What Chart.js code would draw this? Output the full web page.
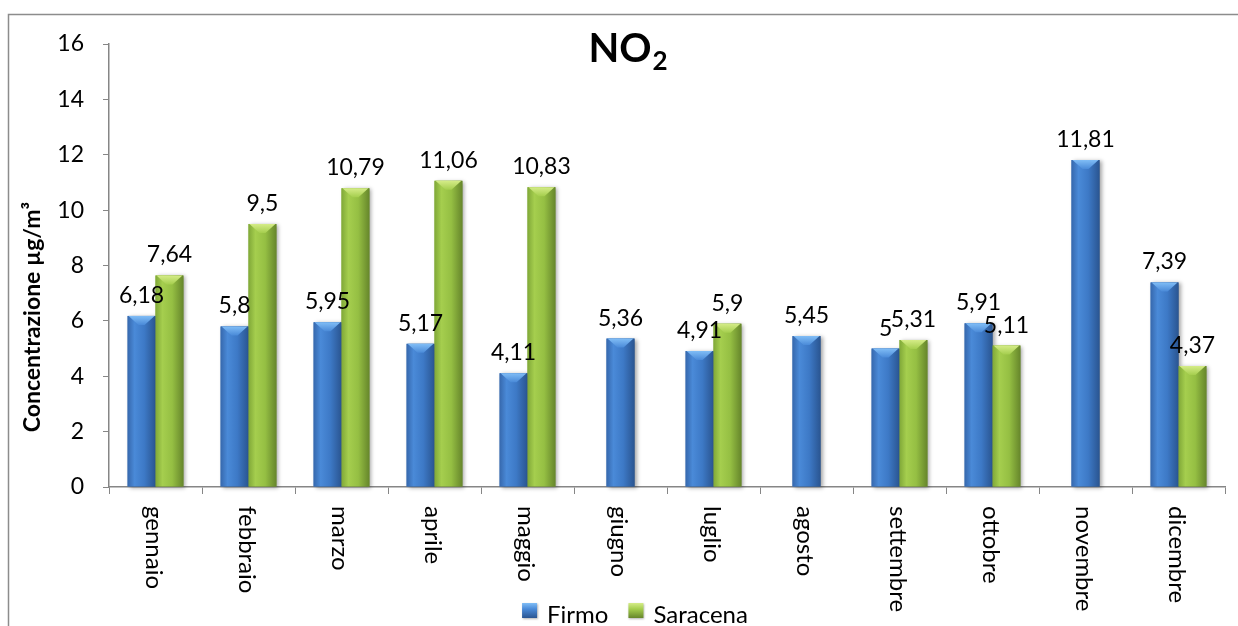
<!DOCTYPE html>
<html>
<head>
<meta charset="utf-8">
<script src="https://cdn.jsdelivr.net/npm/chart.js@4.4.1/dist/chart.umd.min.js"></script>
<style>
  html, body { margin: 0; padding: 0; background: #fff; }
  #wrap { width: 1238px; height: 626px; }
</style>
</head>
<body>
<div id="wrap"><canvas id="no2"></canvas></div>
<script>
// dati NO2
const mesi = ['gennaio', 'febbraio', 'marzo', 'aprile', 'maggio', 'giugno',
  'luglio', 'agosto', 'settembre', 'ottobre', 'novembre', 'dicembre'];
const firmo = [6.18, 5.8, 5.95, 5.17, 4.11, 5.36, 4.91, 5.45, 5, 5.91, 11.81, 7.39];
const saracena = [7.64, 9.5, 10.79, 11.06, 10.83, null, 5.9, null, 5.31, 5.11, null, 4.37];
const yTicks = [0, 2, 4, 6, 8, 10, 12, 14, 16];

const FONT = 'Lato, "Open Sans", sans-serif';
const AXIS = '#868686';

// colori per le barre (base, sfumatura, smusso)
const stili = [
  { base: '#3b74bd', stops: ['#3668ad', '#4a8ad8', '#3d79c6', '#2a5591'], top: '#80bdf6' },
  { base: '#8fbb3f', stops: ['#80a838', '#a5ce4e', '#95bf43', '#66862b'], top: '#d5ec88' }
];

function sfumatura(ctx, x0, x1, s) {
  const g = ctx.createLinearGradient(x0, 0, x1, 0);
  g.addColorStop(0, s.stops[0]);
  g.addColorStop(0.25, s.stops[1]);
  g.addColorStop(0.6, s.stops[2]);
  g.addColorStop(1, s.stops[3]);
  return g;
}

const decorazioni = {
  id: 'decorazioni',
  beforeDraw(chart) {
    const ctx = chart.ctx;
    ctx.save();
    ctx.fillStyle = '#fff';
    ctx.fillRect(0, 0, chart.width, chart.height);
    // cornice (solo alto e sinistra visibili)
    ctx.strokeStyle = '#8c8c8c';
    ctx.lineWidth = 1.5;
    ctx.strokeRect(8.5, 14.5, chart.width + 20, chart.height + 20);
    ctx.restore();
  },
  afterDatasetsDraw(chart) {
    const ctx = chart.ctx;
    chart.data.datasets.forEach((ds, di) => {
      const meta = chart.getDatasetMeta(di);
      const s = stili[di];
      meta.data.forEach((el, i) => {
        if (ds.data[i] == null) return;
        const { x, y, base, width } = el.getProps(['x', 'y', 'base', 'width'], true);
        const l = x - width / 2, r = x + width / 2;
        ctx.save();
        ctx.shadowColor = 'rgba(0,0,0,0.35)';
        ctx.shadowBlur = 4;
        ctx.shadowOffsetX = 2;
        ctx.shadowOffsetY = 1;
        ctx.fillStyle = sfumatura(ctx, l, r, s);
        ctx.fillRect(l, y, width, base - y);
        ctx.restore();
        // smusso in cima
        ctx.save();
        const g = ctx.createLinearGradient(0, y, 0, y + 9);
        g.addColorStop(0, s.top);
        g.addColorStop(1, s.stops[1]);
        ctx.fillStyle = g;
        ctx.beginPath();
        ctx.moveTo(l + 1, y);
        ctx.lineTo(r - 1, y);
        ctx.lineTo(x + 3, y + 9);
        ctx.lineTo(x - 3, y + 9);
        ctx.closePath();
        ctx.fill();
        ctx.restore();
      });
    });
  },
  afterDraw(chart) {
    const ctx = chart.ctx;
    const xs = chart.scales.x;
    ctx.save();
    ctx.fillStyle = '#000';

    // etichette dei valori
    ctx.font = '23px ' + FONT;
    ctx.textAlign = 'center';
    ctx.textBaseline = 'alphabetic';
    chart.data.datasets.forEach((ds, di) => {
      chart.getDatasetMeta(di).data.forEach((el, i) => {
        const v = ds.data[i];
        if (v == null) return;
        ctx.fillText(String(v).replace('.', ','), el.x, el.y - 13);
      });
    });

    // mesi ruotati (lettura dall'alto in basso)
    ctx.font = '24px ' + FONT;
    ctx.textAlign = 'left';
    ctx.textBaseline = 'middle';
    mesi.forEach((m, i) => {
      ctx.save();
      ctx.translate(xs.getPixelForValue(i) - 2, xs.bottom + 12);
      ctx.rotate(Math.PI / 2);
      ctx.fillText(m, 0, 0);
      ctx.restore();
    });

    // titolo asse y
    ctx.save();
    ctx.font = 'bold 23px ' + FONT;
    ctx.textAlign = 'center';
    ctx.textBaseline = 'middle';
    ctx.translate(33, 317);
    ctx.rotate(-Math.PI / 2);
    ctx.fillText('Concentrazione µg/m³', 0, 0);
    ctx.restore();

    // titolo NO2
    ctx.font = 'bold 40px ' + FONT;
    const wNO = ctx.measureText('NO').width;
    ctx.font = 'bold 26px ' + FONT;
    const w2 = ctx.measureText('2').width;
    let tx = 628 - (wNO + w2 + 1) / 2;
    ctx.textAlign = 'left';
    ctx.textBaseline = 'alphabetic';
    ctx.font = 'bold 40px ' + FONT;
    ctx.fillText('NO', tx, 62);
    ctx.font = 'bold 26px ' + FONT;
    ctx.fillText('2', tx + wNO + 1, 70);

    // legenda
    ctx.font = '24px ' + FONT;
    const voci = chart.data.datasets.map(d => d.label);
    const larg = voci.map(t => ctx.measureText(t).width);
    const tot = larg.reduce((a, b) => a + b, 0) + voci.length * 25 + (voci.length - 1) * 20;
    let lx = 635 - tot / 2;
    voci.forEach((t, i) => {
      const s = stili[i];
      ctx.save();
      ctx.shadowColor = 'rgba(0,0,0,0.3)';
      ctx.shadowBlur = 2;
      ctx.shadowOffsetX = 1;
      ctx.shadowOffsetY = 1;
      const g = ctx.createLinearGradient(0, 603, 0, 618);
      g.addColorStop(0, s.top);
      g.addColorStop(0.4, s.stops[1]);
      g.addColorStop(1, s.stops[3]);
      ctx.fillStyle = g;
      ctx.fillRect(lx, 603, 15, 15);
      ctx.restore();
      ctx.fillStyle = '#000';
      ctx.fillText(t, lx + 25, 623);
      lx += 25 + larg[i] + 20;
    });
    ctx.restore();
  }
};

new Chart(document.getElementById('no2'), {
  type: 'bar',
  data: {
    labels: mesi,
    datasets: [
      { label: 'Firmo', data: firmo, backgroundColor: stili[0].base },
      { label: 'Saracena', data: saracena, backgroundColor: stili[1].base }
    ]
  },
  options: {
    responsive: true,
    maintainAspectRatio: false,
    animation: false,
    devicePixelRatio: 1,
    skipNull: true,
    categoryPercentage: 0.6,
    barPercentage: 1.0,
    maxBarThickness: 28,
    layout: { padding: { left: 0, top: 44, right: 13, bottom: 132 } },
    plugins: {
      legend: { display: false },
      tooltip: { enabled: false },
      title: { display: false }
    },
    scales: {
      x: {
        ticks: { display: false },
        grid: { display: true, offset: true, drawOnChartArea: false, drawTicks: true, tickLength: 7, color: AXIS },
        border: { color: AXIS, width: 1.5 },
        afterFit(s) { s.height = 7; }
      },
      y: {
        min: 0,
        max: 16,
        afterBuildTicks(s) { s.ticks = yTicks.map(v => ({ value: v })); },
        ticks: { color: '#000', padding: 19, font: { family: FONT, size: 23 } },
        grid: { display: true, drawOnChartArea: false, drawTicks: true, tickLength: 6, color: AXIS },
        border: { color: AXIS, width: 1.5 },
        afterFit(s) { s.width = 109; }
      }
    }
  },
  plugins: [decorazioni]
});
</script>
</body>
</html>
